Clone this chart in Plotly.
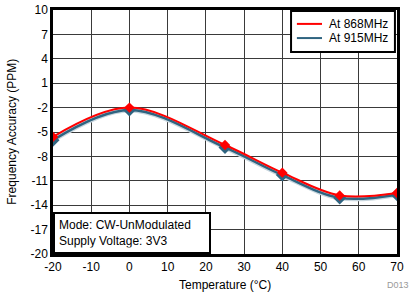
import plotly.graph_objects as go

temps = [-20, 0, 25, 40, 55, 70]
acc_868 = [-5.6, -2.0, -6.6, -10.0, -12.8, -12.5]
acc_915 = [-6.0, -2.3, -6.9, -10.3, -13.1, -12.7]
series_names = ["At 868MHz", "At 915MHz"]
x_ticks = [-20, -10, 0, 10, 20, 30, 40, 50, 60, 70]
y_ticks = [10, 7, 4, 1, -2, -5, -8, -11, -14, -17, -20]

RED = "#ff0000"
BLUE = "#2f6480"
font = dict(family="Liberation Sans, Arial, sans-serif", size=12, color="black")

fig = go.Figure()
fig.add_trace(go.Scatter(
    x=temps, y=acc_915, name=series_names[1], mode="lines",
    line=dict(color="#c8d6de", width=5, shape="spline"),
    showlegend=False, hoverinfo="skip"))
fig.add_trace(go.Scatter(
    x=temps, y=acc_915, name=series_names[1], mode="lines+markers",
    line=dict(color=BLUE, width=2.5, shape="spline"),
    marker=dict(symbol="diamond", size=10, color=BLUE),
    showlegend=False))
fig.add_trace(go.Scatter(
    x=temps, y=acc_868, name=series_names[0], mode="lines+markers",
    line=dict(color=RED, width=2, shape="spline"),
    marker=dict(symbol="diamond", size=8, color=RED),
    showlegend=False))

fig.update_layout(
    width=411, height=297,
    margin=dict(l=53, r=14, t=10, b=43),
    paper_bgcolor="white", plot_bgcolor="white",
    font=font,
    showlegend=False,
)
fig.update_xaxes(range=[-20, 70], tickvals=x_ticks, ticktext=[str(v) for v in x_ticks],
                 ticks="", showgrid=True, automargin=False,
                 gridcolor="#3a3a3a", gridwidth=1.3, zeroline=False,
                 showline=True, linecolor="black", linewidth=2.5, mirror=True,
                 tickfont=dict(size=12))
fig.update_yaxes(range=[-20, 10], tickvals=y_ticks, ticktext=[str(v) for v in y_ticks],
                 ticks="", showgrid=True, automargin=False,
                 gridcolor="#3a3a3a", gridwidth=1.3, zeroline=False,
                 showline=True, linecolor="black", linewidth=2.5, mirror=True,
                 tickfont=dict(size=12))

# custom legend box (paper coords)
fig.add_shape(type="rect", xref="paper", yref="paper", x0=0.692, x1=0.994, y0=0.828, y1=0.996,
              line=dict(color="black", width=2), fillcolor="white", layer="above")
for i, (name, col) in enumerate(zip(series_names, [RED, BLUE])):
    yy = 0.943 - i * 0.058
    fig.add_shape(type="line", xref="paper", yref="paper", x0=0.709, x1=0.782, y0=yy, y1=yy,
                  line=dict(color=col, width=2), layer="above")
    fig.add_annotation(xref="paper", yref="paper", x=0.797, y=yy, xanchor="left", yanchor="middle",
                       text=name, showarrow=False, font=dict(size=12))

fig.add_annotation(xref="paper", yref="paper", x=0.5, y=-0.09, xanchor="center", yanchor="top",
                   text="Temperature (°C)", showarrow=False, font=dict(size=12))
fig.add_annotation(xref="paper", yref="paper", x=-0.12, y=0.5, xanchor="center", yanchor="middle",
                   text="Frequency Accuracy (PPM)", textangle=-90, showarrow=False, font=dict(size=12))

fig.add_annotation(
    xref="paper", yref="paper", x=0.0, y=0.0, xanchor="left", yanchor="bottom",
    text="Mode: CW-UnModulated<br>Supply Voltage: 3V3", align="left",
    showarrow=False, bgcolor="white", bordercolor="black", borderwidth=2,
    borderpad=4, font=dict(size=12), width=146)
fig.add_annotation(
    xref="paper", yref="paper", x=1.04, y=-0.1, xanchor="right", yanchor="top",
    text="D013", showarrow=False, font=dict(size=9, color="#999999"))

fig.write_html("out.html", config={"displayModeBar": False},
               post_script="document.body.style.margin='0';")
